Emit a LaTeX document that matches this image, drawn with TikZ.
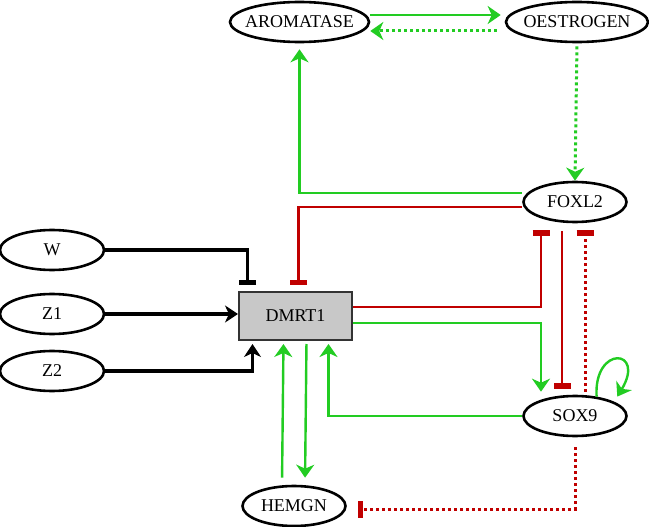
\documentclass[tikz,border=0pt]{standalone}
\usepackage{fontspec}
\setmainfont{Liberation Serif}
\usetikzlibrary{arrows.meta,shapes.geometric}
\definecolor{actgreen}{RGB}{34,204,34}
\definecolor{inhred}{RGB}{192,0,0}
\definecolor{boxgray}{RGB}{200,200,200}
\tikzset{
  gene/.style={ellipse,draw,line width=2.6pt,minimum width=103pt,minimum height=40pt,
    inner xsep=-40pt,inner ysep=0pt,font=\fontsize{18}{20}\selectfont},
  hub/.style={rectangle,draw=black!80,fill=boxgray,line width=2pt,minimum width=113pt,
    minimum height=48pt,inner sep=0pt,font=\fontsize{18}{20}\selectfont},
  act/.style={draw=actgreen,line width=2.4pt,-{Stealth[length=13pt,width=18pt,inset=4pt]}},
  drive/.style={draw=black,line width=3.2pt,-{Stealth[length=13pt,width=17pt,inset=4pt]}},
  inh/.style={draw=inhred,line width=2.2pt,-{Bar[width=17pt,line width=5.5pt]}},
  dots/.style={line width=3pt,dash pattern=on 3pt off 3pt}
}
\begin{document}
\begin{tikzpicture}[x=1pt,y=1pt]
  \useasboundingbox (0,0) rectangle (649,-527);
  \draw
    (299.5,-22) node[gene,minimum width=139pt] (arom){AROMATASE}
    (577,-22) node[gene,minimum width=142pt] (oest){OESTROGEN}
    (575,-202) node[gene] (foxl2){FOXL2}
    (52,-250) node[gene,minimum width=104pt] (w){W}
    (52,-314) node[gene,minimum width=104pt] (z1){Z1}
    (52,-371) node[gene,minimum width=104pt] (z2){Z2}
    (295.5,-316) node[hub] (dmrt1){DMRT1}
    (575,-416) node[gene] (sox9){SOX9}
    (294,-506) node[gene] (hemgn){HEMGN};
  % activation
  \begin{scope}[act]
    \draw[shorten >=4pt] ([yshift=7]arom.east) -- ([yshift=7]oest.west);
    \draw[dots,shorten <=8pt] ([yshift=-9]oest.west) -- ([yshift=-9]arom.east);
    \draw[dots,shorten <=3pt] (oest.south) -- (foxl2.north);
    \draw[shorten >=6pt] ([yshift=9]foxl2.west) -| (arom.south);
    \draw[shorten >=3pt] ([yshift=-7]dmrt1.east) -| ([xshift=-34]sox9.north);
    \draw[shorten >=3pt] (sox9.west) -| ([xshift=33]dmrt1.south);
    \draw[shorten <=7pt,shorten >=3pt] ([xshift=-12]hemgn.north) -- ([xshift=-12]dmrt1.south);
    \draw[shorten <=3pt,shorten >=7pt] ([xshift=11]dmrt1.south) -- ([xshift=11]hemgn.north);
    \draw[shorten >=6pt] (sox9.42) .. controls +(-3,52) and +(32,53) .. (sox9.20);
  \end{scope}
  \begin{scope}[drive]
    \draw (z1.east) -- (z1.east -| dmrt1.west);
    \draw[shorten >=3pt] (z2.east) -| ([xshift=-43]dmrt1.south);
  \end{scope}
  % inhibition
  \begin{scope}[inh]
    \draw[shorten >=6pt] ([yshift=-5]foxl2.west) -| ([xshift=3]dmrt1.north);
    \draw[draw=black,line width=3.2pt,shorten >=6pt] (w.east) -| ([xshift=-48]dmrt1.north);
    \draw[shorten >=7pt] ([yshift=9]dmrt1.east) -| ([xshift=-34]foxl2.south);
    \draw[shorten <=8pt,shorten >=6pt] ([xshift=-13]foxl2.south) -- ([xshift=-13]sox9.north);
    \draw[dots,shorten <=3pt,shorten >=7pt] ([xshift=10]sox9.north) -- ([xshift=10]foxl2.south);
    \draw[dots,shorten <=10pt,shorten >=11pt] (sox9.south) |- ([yshift=-3]hemgn.east);
  \end{scope}
\end{tikzpicture}
\end{document}
